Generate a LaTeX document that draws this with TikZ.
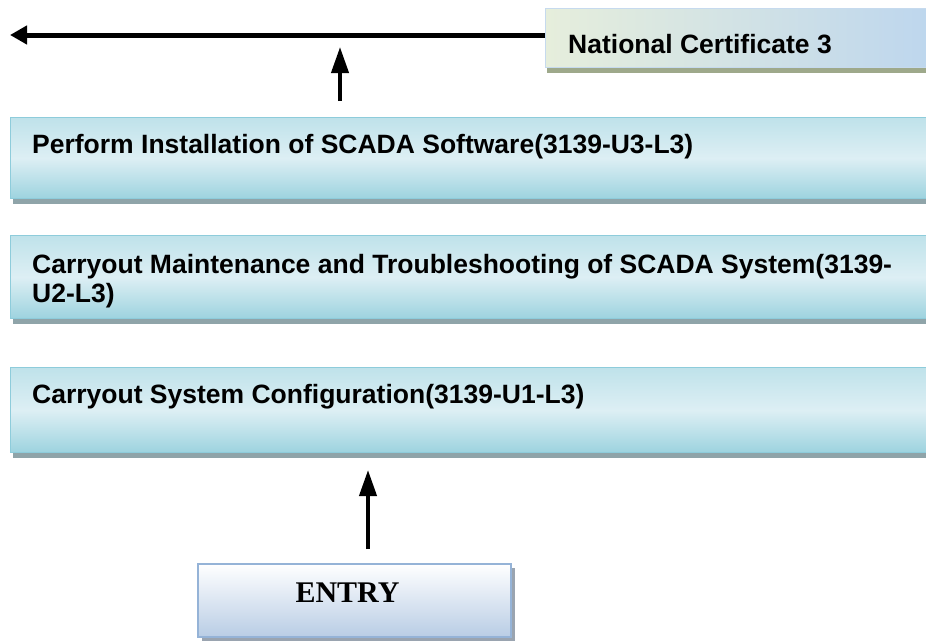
\documentclass[tikz,border=0pt]{standalone}
\usepackage{fontspec}
\setmainfont{Liberation Sans}
\newfontfamily\entryfont{Liberation Serif}
\usetikzlibrary{arrows.meta,shadows}
\definecolor{bluebord}{HTML}{8ECCDB}
\definecolor{bluetop}{HTML}{BFE2EA}
\definecolor{bluemid}{HTML}{DDEFF4}
\definecolor{bluebot}{HTML}{9DD3DF}
\definecolor{bshadow}{HTML}{8FA4A9}
\definecolor{ncleft}{HTML}{E6EEDC}
\definecolor{ncright}{HTML}{BDD6EE}
\definecolor{ncbord}{HTML}{C6DAEE}
\definecolor{ncshadow}{HTML}{9EA98B}
\definecolor{entbord}{HTML}{95B3D7}
\definecolor{entbot}{HTML}{B9CDE5}
\definecolor{entshadow}{HTML}{9AA4B0}
\tikzset{
  unitbox/.style={rectangle, draw=bluebord, line width=1.2pt, anchor=north west,
    top color=bluetop, bottom color=bluebot, middle color=bluemid,
    drop shadow={shadow xshift=2.5pt, shadow yshift=-5pt, fill=bshadow, opacity=1}},
  ncbox/.style={rectangle, draw=ncbord, line width=1.2pt, anchor=north west,
    left color=ncleft, right color=ncright,
    drop shadow={shadow xshift=1.5pt, shadow yshift=-5pt, fill=ncshadow, opacity=1}},
  entrybox/.style={rectangle, draw=entbord, line width=1.5pt, anchor=north west,
    top color=white, bottom color=entbot,
    drop shadow={shadow xshift=4pt, shadow yshift=-4pt, fill=entshadow, opacity=1}},
  boxtext/.style={anchor=base west, inner sep=0pt, font=\fontsize{26.5}{29}\selectfont\bfseries, align=left},
  harrow/.style={line width=5pt, -{Triangle[length=17pt, width=18pt]}},
  varrow/.style={line width=4pt, -{Triangle[length=26pt, width=17pt]}},
}
\begin{document}
\begin{tikzpicture}[x=1pt, y=-1pt]
\useasboundingbox (0,0) rectangle (926,640);
% boxes
\node[ncbox, minimum width=390pt, minimum height=59pt] (nc) at (545,8) {};
\node[unitbox, minimum width=925pt, minimum height=81pt] (b2) at (10,117) {};
\node[unitbox, minimum width=925pt, minimum height=83pt] (b3) at (10,235) {};
\node[unitbox, minimum width=925pt, minimum height=85pt] (b4) at (10,367) {};
\node[entrybox, minimum width=313pt, minimum height=73pt] (entry) at (197,563) {};
% texts
\node[boxtext] (tnc) at (568,53) {National Certificate 3};
\node[boxtext] (tb2) at (32,153) {Perform Installation of SCADA Software(3139-U3-L3)};
\node[boxtext] (tb3) at (32,273) {Carryout Maintenance and Troubleshooting of SCADA System(3139-};
\node[boxtext] (tb3b) at (32,302) {U2-L3)};
\node[boxtext] (tb4) at (32,403) {Carryout System Configuration(3139-U1-L3)};
\node[anchor=base, inner sep=0pt, font=\entryfont\fontsize{30}{32}\selectfont\bfseries] (tent) at (347.5,602) {ENTRY};
% arrows
\coordinate (htip) at (10,35);
\coordinate (t1) at (340,47);
\coordinate (t2) at (368,470);
\draw[harrow] (nc.west |- htip) -- (htip);
\draw[varrow, shorten <=16pt] (b2.north -| t1) -- (t1);
\draw[varrow, shorten <=14pt] (entry.north -| t2) -- (t2);
\end{tikzpicture}
\end{document}
